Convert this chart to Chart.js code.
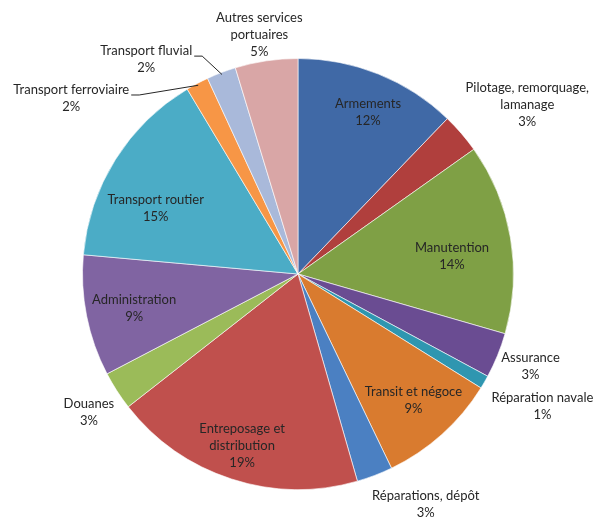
<!DOCTYPE html>
<html>
<head>
<meta charset="utf-8">
<script src="https://cdn.jsdelivr.net/npm/chart.js@4"></script>
<style>
  html, body { margin: 0; padding: 0; background: #fff; }
  #wrap { width: 594px; height: 517px; position: relative; }
</style>
</head>
<body>
<div id="wrap"><canvas id="pie"></canvas></div>
<script>
// categories, clockwise from 12 o'clock
const categories = [
    'Armements',
    'Pilotage, remorquage,\nlamanage',
    'Manutention',
    'Assurance',
    'Réparation navale',
    'Transit et négoce',
    'Réparations, dépôt',
    'Entreposage et\ndistribution',
    'Douanes',
    'Administration',
    'Transport routier',
    'Transport ferroviaire',
    'Transport fluvial',
    'Autres services\nportuaires'
];
// shares (%)
const shares = [12.2, 3.0, 14.3, 3.4, 1.0, 9.0, 2.7, 18.9, 2.9, 9.1, 15.0, 1.7, 2.2, 4.7];

const sliceColors = [
    '#4069a6', '#b03f3d', '#7fa045', '#6a4c92', '#2f96b0', '#d97b2f', '#4b80c2',
    '#c0504d', '#9bbb59', '#8064a2', '#4bacc6', '#f79646', '#a9b9da', '#d9a6a6'
];

// label placement: f = fraction of radius along the slice middle, then a nudge
const labelPlace = [
    { f: 0.82, dx: 4, dy: 2 },
    { f: 1, dx: 66, dy: -29 },
    { f: 0.72, dx: 1, dy: 8 },
    { f: 1, dx: 33, dy: 11 },
    { f: 1, dx: 58, dy: 24 },
    { f: 0.795, dx: 1, dy: -1 },
    { f: 1, dx: 51, dy: 29 },
    { f: 0.84, dx: 0, dy: 0 },
    { f: 1, dx: -28, dy: 22 },
    { f: 0.78, dx: 1, dy: 2 },
    { f: 0.73, dx: -9, dy: 18 },
    { f: 1, dx: -126, dy: 15, leader: true },
    { f: 1, dx: -75, dy: -13, leader: true },
    { f: 1, dx: -7, dy: -26 }
];

const FONT = '13px Lato, "Open Sans", sans-serif';
const LINE_H = 17;

const pieLabels = {
    id: 'pieLabels',
    afterDatasetsDraw(chart) {
        const ctx = chart.ctx;
        const meta = chart.getDatasetMeta(0);
        const total = shares.reduce((a, b) => a + b, 0);
        ctx.save();
        ctx.font = FONT;
        ctx.textAlign = 'center';
        ctx.textBaseline = 'middle';
        meta.data.forEach((arc, i) => {
            const p = arc.getProps(['x', 'y', 'startAngle', 'endAngle', 'outerRadius'], true);
            const mid = (p.startAngle + p.endAngle) / 2;
            const pl = labelPlace[i];
            const ax = p.x + Math.cos(mid) * p.outerRadius * pl.f;
            const ay = p.y + Math.sin(mid) * p.outerRadius * pl.f;
            const cx = ax + pl.dx;
            const cy = ay + pl.dy;
            const lines = categories[i].split('\n');
            lines.push(Math.round(shares[i] / total * 100) + '%');
            const top = cy - (lines.length - 1) * LINE_H / 2;
            ctx.fillStyle = '#262626';
            lines.forEach((t, k) => ctx.fillText(t, cx, top + k * LINE_H));
            if (pl.leader) {
                const w = ctx.measureText(lines[0]).width;
                const lx = cx + w / 2 + 2;
                const ly = top + 5;
                ctx.strokeStyle = '#262626';
                ctx.lineWidth = 1;
                ctx.beginPath();
                ctx.moveTo(lx, ly);
                ctx.lineTo(lx + 8, ly);
                ctx.lineTo(p.x + Math.cos(mid) * (p.outerRadius - 2), p.y + Math.sin(mid) * (p.outerRadius - 2));
                ctx.stroke();
            }
        });
        ctx.restore();
    }
};

new Chart(document.getElementById('pie'), {
    type: 'pie',
    data: {
        labels: categories,
        datasets: [{
            data: shares,
            backgroundColor: sliceColors,
            borderColor: 'rgba(255,255,255,0.6)',
            borderWidth: 1
        }]
    },
    options: {
        responsive: true,
        maintainAspectRatio: false,
        animation: false,
        layout: { padding: { left: 82, top: 58, right: 80, bottom: 27 } },
        plugins: {
            legend: { display: false },
            tooltip: { enabled: false }
        }
    },
    plugins: [pieLabels]
});
</script>
</body>
</html>
